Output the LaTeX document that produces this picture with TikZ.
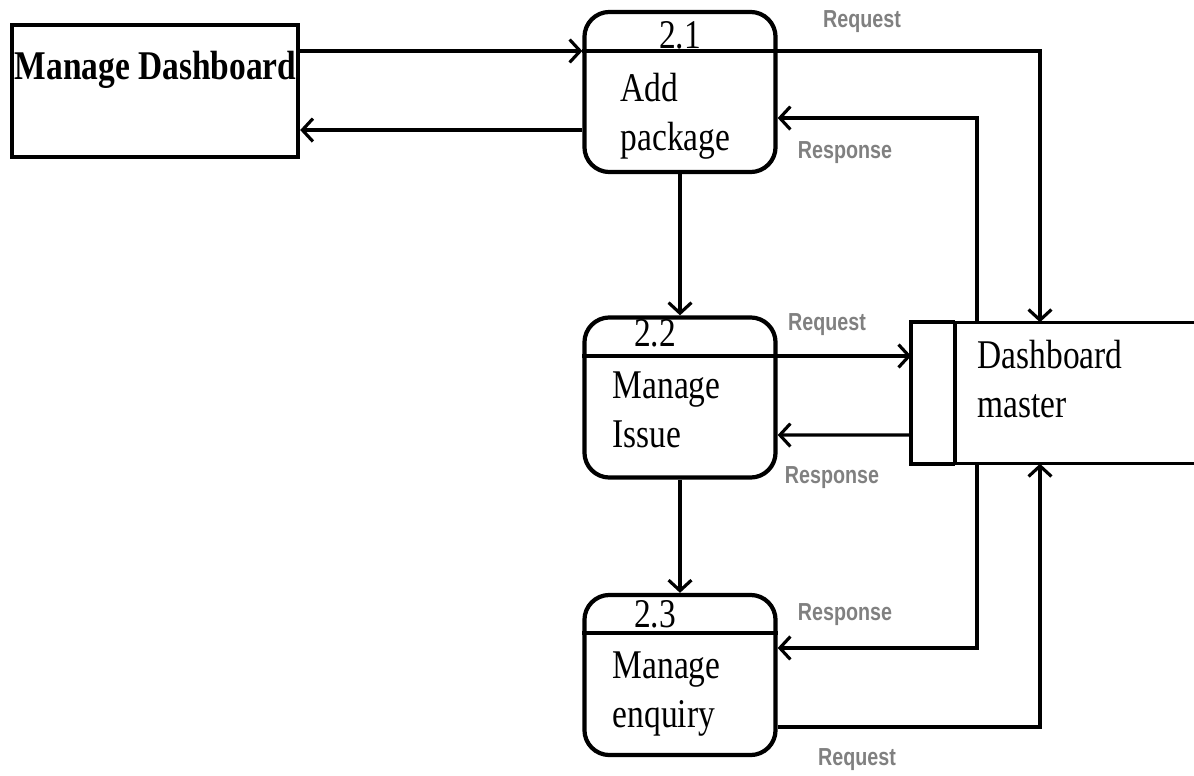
\documentclass[tikz,border=0pt]{standalone}
\usepackage{fontspec}
\usetikzlibrary{arrows.meta}
\setmainfont[FakeStretch=0.82]{Liberation Serif}
\newfontfamily\lblfont[FakeStretch=0.8]{Liberation Sans}
\definecolor{lblgray}{RGB}{128,128,128}
\tikzset{
  proc/.style={draw, line width=1.2pt, rounded corners=0.25cm, minimum width=1.91cm, minimum height=1.6cm, inner sep=0pt},
  flow/.style={-{Straight Barb[length=3pt, width=6.5pt]}, line width=0.9pt},
  lbl/.style={font=\lblfont\bfseries\fontsize{7}{8}\selectfont, text=lblgray},
  txt/.style={font=\fontsize{11.6}{13.7}\selectfont, align=left, anchor=base west, inner sep=0pt},
  num/.style={font=\fontsize{11.6}{13.7}\selectfont, anchor=base, inner sep=0pt}
}
\begin{document}
\begin{tikzpicture}[x=0.01cm, y=-0.01cm]
\useasboundingbox (0,0) rectangle (1194,776);

% external entity
\node[draw, line width=1.2pt, minimum width=2.86cm, minimum height=1.32cm] (md) at (155,91) {};
\node[txt, font=\bfseries\fontsize{11.6}{13.7}\selectfont] (mdtext) at (14,80) {Manage Dashboard};

% processes
\node[proc] (p21) at (680,92) {};
\node[proc] (p22) at (680,397.5) {};
\node[proc] (p23) at (680,675) {};
\coordinate (d21) at (680,51);
\coordinate (d22) at (680,356);
\coordinate (d23) at (680,633);
\draw[line width=0.9pt] (p21.west |- d21) -- (p21.east |- d21);
\draw[line width=0.9pt] (p22.west |- d22) -- (p22.east |- d22);
\draw[line width=0.9pt] (p23.west |- d23) -- (p23.east |- d23);

\node[num] (n21) at (680,49) {2.1};
\node[num] (n22) at (655,347) {2.2};
\node[num] (n23) at (655,627) {2.3};
\node[txt] (t21) at (620,150) {Add\\package};
\node[txt] (t22) at (612,447) {Manage\\Issue};
\node[txt] (t23) at (612,727) {Manage\\enquiry};

% data store
\node[minimum width=2.82cm, minimum height=1.40cm, inner sep=0pt] (dm) at (1053,393) {};
\coordinate (dmsplit) at (955,393);
\draw[line width=1.2pt] (dm.north -| dmsplit) -- (dm.north west) -- (dm.south west) -- (dm.south -| dmsplit);
\draw[line width=1pt] (dm.north -| dmsplit) -- (dm.south -| dmsplit);
\draw[line width=0.9pt] (dm.north -| dmsplit) -- (dm.north east);
\draw[line width=0.9pt] (dm.south -| dmsplit) -- (dm.south east);
\node[txt] (dmtext) at (977,417) {Dashboard\\master};

% flows
\draw[flow] (md.east |- d21) -- (p21.west |- d21);
\draw[flow] ([yshift=-0.38cm]p21.west) -- ([yshift=-0.39cm]md.east);
\draw[flow] (p21.east |- d21) -| ([xshift=-0.13cm]dm.north);
\draw[flow] ([xshift=-0.76cm]dm.north) |- ([yshift=-0.26cm]p21.east);
\draw[flow] (p21.south) -- (p22.north);
\draw[flow] (p22.east |- d22) -- (dm.west |- d22);
\draw[flow] ([yshift=-0.42cm]dm.west) -- ([yshift=-0.375cm]p22.east);
\draw[flow] (p22.south) -- (p23.north);
\draw[flow] ([xshift=-0.76cm]dm.south) |- ([yshift=0.27cm]p23.east);
\draw[flow] ([yshift=-0.52cm]p23.east) -| ([xshift=-0.13cm]dm.south);

% labels
\node[lbl] (lreq1) at (862,22) {Request};
\node[lbl] (lres1) at (845,153) {Response};
\node[lbl] (lreq2) at (827,325) {Request};
\node[lbl] (lres2) at (832,478) {Response};
\node[lbl] (lres3) at (845,615) {Response};
\node[lbl] (lreq3) at (857,760) {Request};

\end{tikzpicture}
\end{document}
